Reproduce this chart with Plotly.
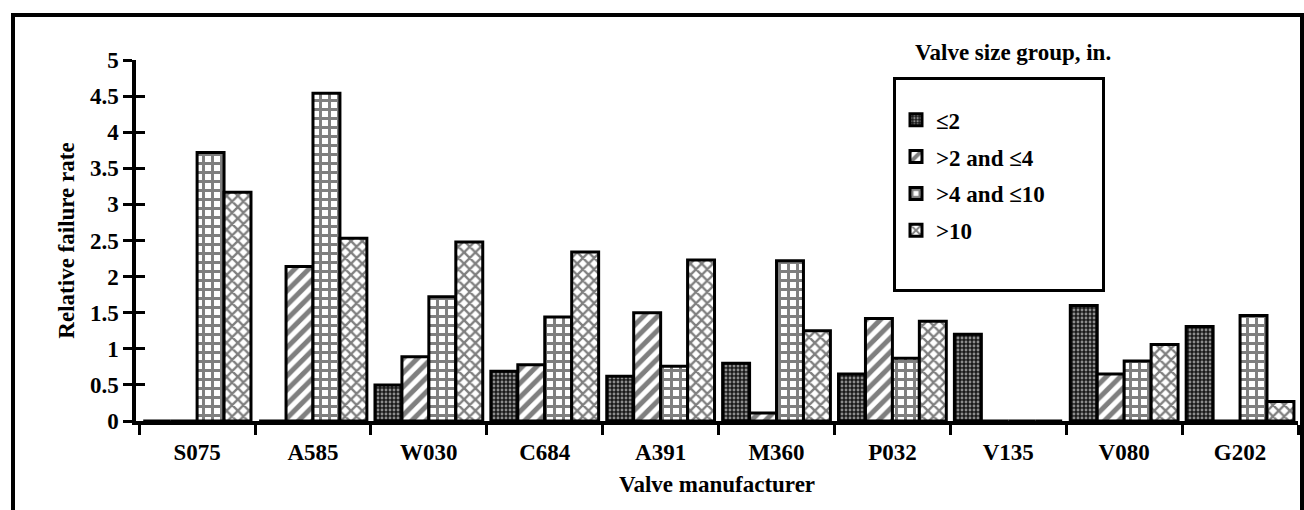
import plotly.graph_objects as go

manufacturers = ["S075", "A585", "W030", "C684", "A391", "M360", "P032", "V135", "V080", "G202"]
size_groups = ["≤2", ">2 and ≤4", ">4 and ≤10", ">10"]
le2 = [0, 0, 0.50, 0.69, 0.62, 0.80, 0.65, 1.20, 1.60, 1.31]
gt2_le4 = [0, 2.14, 0.89, 0.78, 1.50, 0.11, 1.42, 0, 0.65, 0]
gt4_le10 = [3.72, 4.54, 1.72, 1.44, 0.76, 2.22, 0.87, 0, 0.83, 1.46]
gt10 = [3.17, 2.53, 2.48, 2.34, 2.23, 1.25, 1.38, 0, 1.06, 0.27]
y_ticks = [0, 0.5, 1, 1.5, 2, 2.5, 3, 3.5, 4, 4.5, 5]

series = [le2, gt2_le4, gt4_le10, gt10]
patterns = [
    dict(shape=".", bgcolor="#1a1a1a", fgcolor="white", size=4, solidity=0.4),
    dict(shape="/", bgcolor="white", fgcolor="black", size=10, solidity=0.5),
    dict(shape="+", bgcolor="white", fgcolor="black", size=9, solidity=0.55),
    dict(shape="x", bgcolor="white", fgcolor="black", size=8, solidity=0.5),
]

FONT = "Liberation Serif"
FS = 23
fig = go.Figure()
for name, vals, pat in zip(size_groups, series, patterns):
    fig.add_trace(go.Bar(
        x=manufacturers, y=vals, name="<b>" + name + "</b>" + "\u00a0" * 9,
        legendgroup=name,
        marker=dict(color="white", pattern=pat, line=dict(color="black", width=3)),
    ))

ml, mr, mt, mb = 136, 6, 60, 89
W, H = 1304, 510
pw, ph = W - ml - mr, H - mt - mb

fig.update_layout(
    width=W, height=H,
    margin=dict(l=ml, r=mr, t=mt, b=mb),
    paper_bgcolor="white", plot_bgcolor="white",
    barmode="group", bargap=0.07, bargroupgap=0,
    font=dict(family=FONT, size=FS, color="black"),
    showlegend=True,
    legend=dict(
        x=(893 - ml) / pw, y=(H - mb - 77) / ph, xanchor="left", yanchor="top",
        bordercolor="black", borderwidth=3, bgcolor="white",
        font=dict(family=FONT, size=FS, color="black"),
        title=dict(text="\u00a0", font=dict(size=14)),
        tracegroupgap=4, itemwidth=30,
    ),
    xaxis=dict(
        type="category", tickson="boundaries", ticks="outside", ticklen=10,
        tickwidth=3, tickcolor="black",
        showline=True, linecolor="black", linewidth=3.5,
        showgrid=False, zeroline=False,
        tickvals=manufacturers, ticktext=[f"<b>{m}</b>" for m in manufacturers],
        tickfont=dict(family=FONT, size=FS, color="black"),
        ticklabelstandoff=8,
        title=dict(text="<b>Valve manufacturer</b>", font=dict(family=FONT, size=FS), standoff=13),
    ),
    yaxis=dict(
        range=[0, 5], tickvals=y_ticks, ticktext=[f"<b>{v:g}</b>" for v in y_ticks],
        ticks="outside", ticklen=9, tickwidth=3, tickcolor="black",
        showline=True, linecolor="black", linewidth=3.5,
        showgrid=False, zeroline=False,
        tickfont=dict(family=FONT, size=FS, color="black"),
        title=dict(text="<b>Relative failure rate</b>", font=dict(family=FONT, size=FS), standoff=10),
    ),
    yaxis2=dict(
        range=[0, 5], tickvals=y_ticks, overlaying="y", anchor="x", side="left",
        ticks="inside", ticklen=9, tickwidth=3, tickcolor="black",
        showticklabels=False, showline=False, showgrid=False, zeroline=False,
    ),
)

# invisible trace so yaxis2 (inner half of the crossing ticks) is drawn;
# its blank legend row gives the legend box its bottom padding
fig.add_trace(go.Scatter(x=[manufacturers[0]], y=[0], yaxis="y2", mode="markers",
                         marker=dict(size=1, color="rgba(0,0,0,0)", opacity=0),
                         name="\u00a0", legendgroup="pad",
                         showlegend=True, hoverinfo="skip"))

fig.add_annotation(
    text="<b>Valve size group, in.</b>", xref="paper", yref="paper",
    x=(1013 - ml) / pw, y=(H - mb - 53) / ph, xanchor="center", yanchor="middle",
    showarrow=False, font=dict(family=FONT, size=FS, color="black"),
)

# outer frame
fig.add_shape(
    type="rect", xref="paper", yref="paper",
    x0=(13 - ml) / pw, x1=(1302 - ml) / pw,
    y0=(H - mb - 530) / ph, y1=(H - mb - 15) / ph,
    line=dict(color="black", width=4), fillcolor="rgba(0,0,0,0)", layer="below",
)

fig.write_html(
    "out.html",
    config={"displayModeBar": False},
    post_script="document.body.style.margin='0';document.body.style.overflow='hidden';",
)
